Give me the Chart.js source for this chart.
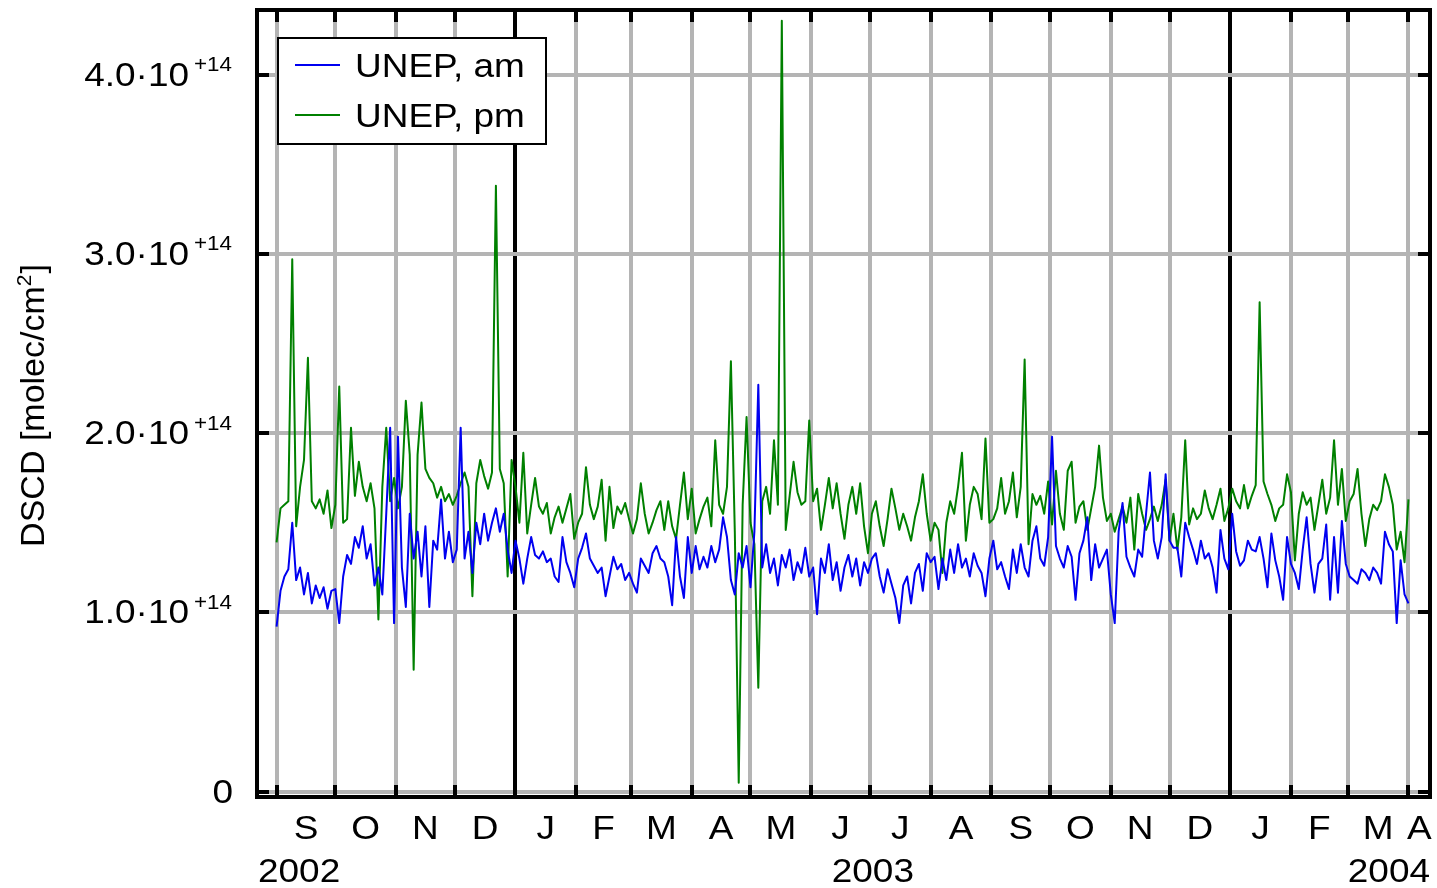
<!DOCTYPE html>
<html>
<head>
<meta charset="utf-8">
<title>UNEP DSCD 2002-2004</title>
<script src="https://cdn.jsdelivr.net/npm/chart.js@4.4.1/dist/chart.umd.min.js"></script>
<style>
  html, body { margin: 0; padding: 0; background: #fff; }
  #wrap { width: 1437px; height: 888px; }
</style>
</head>
<body>
<div id="wrap"><canvas id="dscd" width="1437" height="888"></canvas></div>
<script>
// DSCD in units of 1e14 molec/cm2, one sample every second day starting 1 Sep 2002
let amDscd = [
    0.92, 1.12, 1.20, 1.24, 1.50, 1.18, 1.25, 1.10, 1.22, 1.05, 1.15, 1.08, 1.14, 1.02, 1.12,          // Sep 02
    1.13, 0.94, 1.20, 1.32, 1.27, 1.42, 1.36, 1.48, 1.30, 1.38, 1.15, 1.25, 1.10, 1.55, 2.03, 0.94,    // Oct
    1.98, 1.25, 1.03, 1.55, 1.30, 1.45, 1.20, 1.48, 1.03, 1.40, 1.35, 1.63, 1.30, 1.45, 1.28,          // Nov
    1.35, 2.03, 1.30, 1.45, 1.22, 1.50, 1.38, 1.55, 1.40, 1.50, 1.58, 1.45, 1.55, 1.35, 1.22,          // Dec
    1.40, 1.30, 1.16, 1.30, 1.42, 1.32, 1.30, 1.34, 1.28, 1.30, 1.20, 1.17, 1.42, 1.28, 1.22, 1.14,    // Jan 03
    1.30, 1.36, 1.44, 1.30, 1.26, 1.22, 1.25, 1.09, 1.20, 1.31, 1.24, 1.27, 1.18, 1.22,                // Feb
    1.16, 1.11, 1.30, 1.26, 1.22, 1.33, 1.37, 1.30, 1.28, 1.20, 1.04, 1.42, 1.20, 1.08, 1.42,          // Mar
    1.22, 1.37, 1.24, 1.31, 1.25, 1.37, 1.28, 1.35, 1.53, 1.42, 1.18, 1.10, 1.33, 1.25, 1.37,          // Apr
    1.14, 1.45, 2.27, 1.25, 1.38, 1.22, 1.30, 1.15, 1.32, 1.25, 1.35, 1.18, 1.28, 1.22, 1.36, 1.20,    // May
    1.25, 0.99, 1.30, 1.22, 1.38, 1.18, 1.28, 1.12, 1.25, 1.32, 1.20, 1.30, 1.15, 1.28, 1.22,          // Jun
    1.30, 1.33, 1.20, 1.11, 1.24, 1.16, 1.08, 0.94, 1.15, 1.20, 1.05, 1.22, 1.27, 1.12, 1.33,          // Jul
    1.28, 1.31, 1.13, 1.30, 1.18, 1.35, 1.22, 1.38, 1.25, 1.30, 1.20, 1.33, 1.26, 1.22, 1.09, 1.30,    // Aug
    1.40, 1.24, 1.28, 1.20, 1.13, 1.35, 1.22, 1.38, 1.25, 1.20, 1.40, 1.48, 1.30, 1.26, 1.42,          // Sep
    1.98, 1.37, 1.30, 1.25, 1.37, 1.31, 1.07, 1.33, 1.40, 1.53, 1.18, 1.38, 1.25, 1.30, 1.35,          // Oct
    1.10, 0.94, 1.45, 1.61, 1.31, 1.25, 1.20, 1.35, 1.31, 1.55, 1.78, 1.40, 1.30, 1.42, 1.77,          // Nov
    1.40, 1.36, 1.36, 1.20, 1.50, 1.42, 1.35, 1.27, 1.40, 1.30, 1.33, 1.25, 1.11, 1.46, 1.30, 1.24,    // Dec
    1.55, 1.34, 1.26, 1.29, 1.40, 1.35, 1.34, 1.42, 1.30, 1.14, 1.44, 1.29, 1.20, 1.07, 1.42,          // Jan 04
    1.27, 1.22, 1.13, 1.35, 1.53, 1.27, 1.11, 1.27, 1.30, 1.49, 1.07, 1.42, 1.11, 1.51, 1.27,          // Feb
    1.20, 1.18, 1.16, 1.24, 1.22, 1.18, 1.25, 1.22, 1.16, 1.45, 1.38, 1.34, 0.94, 1.29, 1.10, 1.05     // Mar
];

let pmDscd = [
    1.39, 1.58, 1.60, 1.62, 2.97, 1.48, 1.70, 1.85, 2.42, 1.62, 1.58, 1.63, 1.55, 1.68, 1.47,          // Sep 02
    1.60, 2.26, 1.50, 1.52, 2.03, 1.65, 1.84, 1.70, 1.62, 1.72, 1.58, 0.96, 1.70, 2.03, 1.62, 1.75,    // Oct
    1.58, 1.70, 2.18, 1.88, 0.68, 1.88, 2.17, 1.80, 1.75, 1.72, 1.64, 1.70, 1.62, 1.66, 1.60,          // Nov
    1.65, 1.72, 1.78, 1.70, 1.09, 1.72, 1.85, 1.76, 1.69, 1.78, 3.38, 1.80, 1.72, 1.20, 1.85,          // Dec
    1.70, 1.50, 1.89, 1.44, 1.60, 1.75, 1.59, 1.55, 1.61, 1.44, 1.53, 1.59, 1.50, 1.58, 1.66, 1.41,    // Jan 03
    1.50, 1.55, 1.81, 1.60, 1.52, 1.59, 1.74, 1.40, 1.70, 1.47, 1.59, 1.55, 1.61, 1.52,                // Feb
    1.44, 1.52, 1.72, 1.55, 1.44, 1.50, 1.57, 1.62, 1.46, 1.62, 1.48, 1.41, 1.60, 1.78, 1.52,          // Mar
    1.69, 1.44, 1.52, 1.59, 1.64, 1.48, 1.96, 1.60, 1.55, 1.70, 2.40, 1.45, 0.05, 1.60, 2.09,          // Apr
    1.50, 1.38, 0.58, 1.62, 1.70, 1.55, 1.96, 1.60, 4.30, 1.46, 1.65, 1.84, 1.67, 1.60, 1.62, 2.07,    // May
    1.62, 1.69, 1.46, 1.60, 1.75, 1.58, 1.72, 1.55, 1.41, 1.60, 1.70, 1.55, 1.72, 1.48, 1.33,          // Jun
    1.55, 1.62, 1.48, 1.37, 1.52, 1.69, 1.58, 1.46, 1.55, 1.48, 1.40, 1.53, 1.62, 1.77, 1.55,          // Jul
    1.40, 1.50, 1.46, 1.22, 1.50, 1.62, 1.55, 1.70, 1.89, 1.40, 1.60, 1.70, 1.66, 1.52, 1.97, 1.50,    // Aug
    1.52, 1.58, 1.75, 1.55, 1.62, 1.78, 1.53, 1.70, 2.41, 1.38, 1.66, 1.60, 1.65, 1.55, 1.73,          // Sep
    1.49, 1.79, 1.55, 1.46, 1.79, 1.84, 1.50, 1.59, 1.62, 1.46, 1.58, 1.70, 1.93, 1.64, 1.51,          // Oct
    1.55, 1.45, 1.52, 1.59, 1.50, 1.64, 1.35, 1.66, 1.55, 1.46, 1.52, 1.59, 1.51, 1.60, 1.74,          // Nov
    1.40, 1.55, 1.35, 1.53, 1.96, 1.49, 1.58, 1.52, 1.55, 1.68, 1.58, 1.52, 1.60, 1.69, 1.51, 1.58,    // Dec
    1.69, 1.62, 1.58, 1.71, 1.58, 1.65, 1.71, 2.73, 1.73, 1.66, 1.60, 1.51, 1.58, 1.60, 1.77,          // Jan 04
    1.67, 1.29, 1.55, 1.67, 1.60, 1.64, 1.46, 1.60, 1.74, 1.55, 1.64, 1.96, 1.60, 1.80, 1.51,          // Feb
    1.62, 1.66, 1.80, 1.55, 1.37, 1.52, 1.60, 1.57, 1.62, 1.77, 1.70, 1.60, 1.35, 1.45, 1.28, 1.63     // Mar
];

let sampleStep = 2;   // days between samples
let seriesLabels = ['UNEP, am', 'UNEP, pm'];
let seriesColors = ['rgb(0, 0, 240)', 'rgb(0, 128, 0)'];

let monthLetters = ['S', 'O', 'N', 'D', 'J', 'F', 'M', 'A', 'M', 'J', 'J', 'A', 'S', 'O', 'N', 'D', 'J', 'F', 'M', 'A'];
let yearLabels = ['2002', '2003', '2004'];
let yTicks = [0, 1, 2, 3, 4];

// x axis runs in days since 1 Sep 2002
const DAY = 864e5;
const t0 = Date.UTC(2002, 8, 1);
function dayOf(y, m, d) {
    return (Date.UTC(y, m, d) - t0) / DAY;
}

const xMin = dayOf(2002, 7, 22);
const xMax = dayOf(2004, 3, 12);
const monthStarts = monthLetters.map((l, k) => dayOf(2002, 8 + k, 1));
const monthEnds = monthLetters.map((l, k) => dayOf(2002, 9 + k, 1));
const yearStarts = yearLabels.map(y => dayOf(+y, 0, 1));

function toPoints(values) {
    return values.map((v, i) => ({ x: i * sampleStep, y: v }));
}

const FONT = '"Liberation Sans", Arial, Helvetica, sans-serif';
const STRETCH = 1.12;

// text drawn slightly widened, returns the drawn width
function drawText(ctx, str, x, y, size, align) {
    ctx.save();
    ctx.font = size + 'px ' + FONT;
    let w = ctx.measureText(str).width * STRETCH;
    let left = x;
    if (align === 'center') left = x - w / 2;
    else if (align === 'right') left = x - w;
    ctx.translate(left, y);
    ctx.scale(STRETCH, 1);
    ctx.textAlign = 'left';
    ctx.textBaseline = 'middle';
    ctx.fillStyle = '#000';
    ctx.fillText(str, 0, 0);
    ctx.restore();
    return w;
}

let decorations = {
    id: 'decorations',
    afterDraw(chart) {
        let ctx = chart.ctx;
        let a = chart.chartArea;
        let x = chart.scales.x;
        let y = chart.scales.y;

        ctx.save();
        ctx.strokeStyle = '#000';
        ctx.lineWidth = 4;

        // inward tick marks
        ctx.beginPath();
        monthStarts.concat(yearStarts).forEach(d => {
            if (d < xMin || d > xMax) return;
            let px = Math.round(x.getPixelForValue(d));
            ctx.moveTo(px, a.bottom);
            ctx.lineTo(px, a.bottom - 12);
            ctx.moveTo(px, a.top);
            ctx.lineTo(px, a.top + 12);
        });
        yTicks.forEach(v => {
            let py = Math.round(y.getPixelForValue(v));
            ctx.moveTo(a.left, py);
            ctx.lineTo(a.left + 12, py);
            ctx.moveTo(a.right, py);
            ctx.lineTo(a.right - 12, py);
        });
        ctx.stroke();

        // frame
        ctx.strokeRect(a.left, a.top, a.right - a.left, a.bottom - a.top);
        ctx.restore();

        // y tick labels, e.g. 2.0·10^+14
        yTicks.forEach(v => {
            let py = y.getPixelForValue(v);
            let right = a.left - 24;
            if (v === 0) {
                drawText(ctx, '0', right, py + 2, 33, 'right');
                return;
            }
            let supW = drawText(ctx, '+14', right - 1, py - 9, 20, 'right');
            drawText(ctx, v.toFixed(1) + '\u00b710', right - supW - 6, py + 2, 33, 'right');
        });

        // month letters centred on the visible part of each month
        monthLetters.forEach((l, k) => {
            let s = Math.max(monthStarts[k], xMin);
            let e = Math.min(monthEnds[k], xMax);
            if (e <= s) return;
            drawText(ctx, l, x.getPixelForValue((s + e) / 2), a.bottom + 33, 33, 'center');
        });

        // year row: first and last pushed to the plot edges
        yearLabels.forEach((l, k) => {
            let py = a.bottom + 76;
            if (k === 0) {
                drawText(ctx, l, a.left + 1, py, 33, 'left');
            } else if (k === yearLabels.length - 1) {
                drawText(ctx, l, a.right, py, 33, 'right');
            } else {
                let mid = (yearStarts[k] + yearStarts[k + 1]) / 2;
                drawText(ctx, l, x.getPixelForValue(mid), py, 33, 'center');
            }
        });

        // y axis title
        ctx.save();
        ctx.translate(35, (a.top + a.bottom) / 2 + 2);
        ctx.rotate(-Math.PI / 2);
        ctx.fillStyle = '#000';
        ctx.textBaseline = 'middle';
        ctx.textAlign = 'left';
        let big = '34px ' + FONT;
        let small = '21px ' + FONT;
        ctx.font = big;
        let w1 = ctx.measureText('DSCD [molec/cm').width;
        let w3 = ctx.measureText(']').width;
        ctx.font = small;
        let w2 = ctx.measureText('2').width + 1;
        let sx = -(w1 + w2 + w3) / 2;
        ctx.font = big;
        ctx.fillText('DSCD [molec/cm', sx, 0);
        ctx.fillText(']', sx + w1 + w2, 0);
        ctx.font = small;
        ctx.fillText('2', sx + w1, -10);
        ctx.restore();

        // legend box
        let lx = a.left + 21;
        let ly = a.top + 28;
        ctx.save();
        ctx.fillStyle = '#fff';
        ctx.fillRect(lx, ly, 268, 106);
        ctx.strokeStyle = '#000';
        ctx.lineWidth = 2;
        ctx.strokeRect(lx, ly, 268, 106);
        chart.data.datasets.forEach((ds, i) => {
            let ry = ly + 27 + i * 50;
            ctx.strokeStyle = ds.borderColor;
            ctx.lineWidth = 2;
            ctx.beginPath();
            ctx.moveTo(lx + 17, ry);
            ctx.lineTo(lx + 62, ry);
            ctx.stroke();
            drawText(ctx, ds.label, lx + 77, ry + 3, 33, 'left');
        });
        ctx.restore();
    }
};

let chart = new Chart(document.getElementById('dscd'), {
    type: 'line',
    data: {
        datasets: [
            {
                label: seriesLabels[0],
                data: toPoints(amDscd),
                borderColor: seriesColors[0],
                borderWidth: 2,
                borderJoinStyle: 'round',
                pointRadius: 0,
                fill: false,
                tension: 0
            },
            {
                label: seriesLabels[1],
                data: toPoints(pmDscd),
                borderColor: seriesColors[1],
                borderWidth: 2,
                borderJoinStyle: 'round',
                pointRadius: 0,
                fill: false,
                tension: 0
            }
        ]
    },
    options: {
        responsive: false,
        animation: false,
        devicePixelRatio: 1,
        events: [],
        layout: { padding: { top: 10, right: 7, left: 0, bottom: 0 } },
        plugins: {
            legend: { display: false },
            tooltip: { enabled: false }
        },
        scales: {
            x: {
                type: 'linear',
                min: xMin,
                max: xMax,
                afterBuildTicks: s => {
                    s.ticks = monthStarts.filter(d => d >= xMin && d <= xMax).map(d => ({ value: d }));
                },
                afterFit: s => { s.height = 91; },
                ticks: { display: false },
                border: { display: false },
                grid: {
                    lineWidth: 4,
                    drawTicks: false,
                    color: c => (c.tick && yearStarts.includes(c.tick.value)) ? '#000' : '#b4b4b4'
                }
            },
            y: {
                type: 'linear',
                min: -0.03,
                max: 4.36,
                afterBuildTicks: s => {
                    s.ticks = yTicks.map(v => ({ value: v }));
                },
                afterFit: s => { s.width = 257; },
                ticks: { display: false },
                border: { display: false },
                grid: {
                    lineWidth: 4,
                    drawTicks: false,
                    color: '#b4b4b4'
                }
            }
        }
    },
    plugins: [decorations]
});
</script>
</body>
</html>
